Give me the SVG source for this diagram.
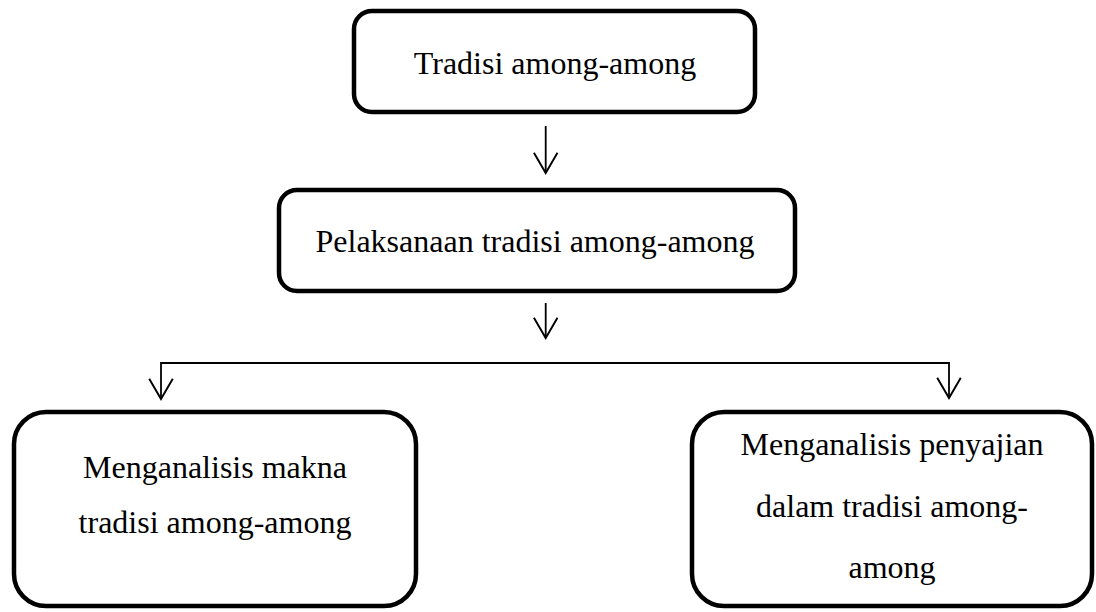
<svg xmlns="http://www.w3.org/2000/svg" width="1096" height="612" viewBox="0 0 1096 612">
  <defs>
    <style>
      .box { fill: #ffffff; stroke: #000000; stroke-width: 4.5; }
      .lbl { font-family: "Liberation Serif", "Times New Roman", serif; font-size: 32px; fill: #000000; text-anchor: middle; }
      .conn { fill: none; stroke: #000000; stroke-width: 1.8; }
    </style>
    <marker id="arr" markerUnits="userSpaceOnUse" markerWidth="30" markerHeight="30" viewBox="-22 -14 26 28" refX="0" refY="0" orient="auto">
      <path d="M -19 -11 L 0 0 L -19 11" fill="none" stroke="#000000" stroke-width="1.8"/>
    </marker>
  </defs>
  <rect width="1096" height="612" fill="#ffffff"/>

  <g id="node-tradisi">
    <rect class="box" x="354" y="11" width="401" height="101" rx="18" ry="18"/>
    <text class="lbl" x="555" y="74">Tradisi among-among</text>
  </g>

  <g id="node-pelaksanaan">
    <rect class="box" x="279" y="190" width="516" height="101" rx="18" ry="18"/>
    <text class="lbl" x="535" y="252">Pelaksanaan tradisi among-among</text>
  </g>

  <g id="node-makna">
    <rect class="box" x="14" y="412" width="402" height="194" rx="32" ry="32"/>
    <text class="lbl" x="215" y="478">Menganalisis makna</text>
    <text class="lbl" x="215" y="533">tradisi among-among</text>
  </g>

  <g id="node-penyajian">
    <rect class="box" x="692" y="412" width="400" height="194" rx="32" ry="32"/>
    <text class="lbl" x="892" y="455">Menganalisis penyajian</text>
    <text class="lbl" x="892" y="517">dalam tradisi among-</text>
    <text class="lbl" x="892" y="578">among</text>
  </g>

  <g id="connectors">
    <path class="conn" d="M 545.7 126 V 173" marker-end="url(#arr)"/>
    <path class="conn" d="M 545.7 303 V 338" marker-end="url(#arr)"/>
    <path class="conn" d="M 161 363 H 949"/>
    <path class="conn" d="M 161 362.1 V 399" marker-end="url(#arr)"/>
    <path class="conn" d="M 949 362.1 V 398" marker-end="url(#arr)"/>
  </g>
</svg>
